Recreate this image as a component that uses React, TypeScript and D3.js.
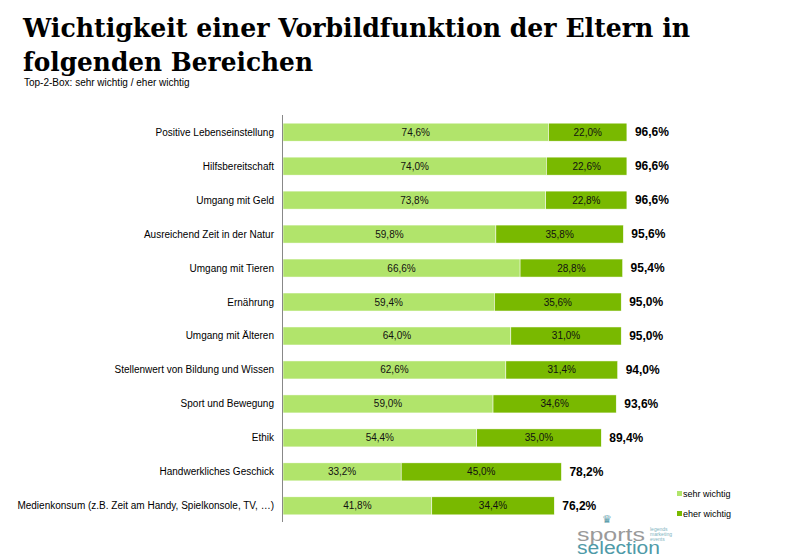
import React from "react";
import * as d3 from "d3";

const categories = [
  "Positive Lebenseinstellung",
  "Hilfsbereitschaft",
  "Umgang mit Geld",
  "Ausreichend Zeit in der Natur",
  "Umgang mit Tieren",
  "Ernährung",
  "Umgang mit Älteren",
  "Stellenwert von Bildung und Wissen",
  "Sport und Bewegung",
  "Ethik",
  "Handwerkliches Geschick",
  "Medienkonsum (z.B. Zeit am Handy, Spielkonsole, TV, …)",
];
const sehrWichtig = [74.6, 74.0, 73.8, 59.8, 66.6, 59.4, 64.0, 62.6, 59.0, 54.4, 33.2, 41.8];
const eherWichtig = [22.0, 22.6, 22.8, 35.8, 28.8, 35.6, 31.0, 31.4, 34.6, 35.0, 45.0, 34.4];
const seriesNames = ["sehr wichtig", "eher wichtig"];
const colors = ["#b1e46b", "#79b900"];

const fmt = (v: number) => v.toFixed(1).replace(".", ",") + "%";

export default function App() {
  const W = 786, H = 559;
  const x = d3.scaleLinear().domain([0, 100]).range([283, 639]);
  const y = d3.scaleBand().domain(categories).range([115, 523]).paddingInner(0.47).paddingOuter(0.24);
  const font = "Liberation Sans, Arial, sans-serif";
  const serif = "DejaVu Serif, Georgia, serif";
  return (
    <svg width={W} height={H} style={{ position: "absolute", left: 0, top: 0, background: "#fff" }}>
      <text x={23} y={37} fontFamily={serif} fontWeight="bold" fontSize={26} textLength={667} lengthAdjust="spacingAndGlyphs" fill="#000">
        Wichtigkeit einer Vorbildfunktion der Eltern in
      </text>
      <text x={23} y={71} fontFamily={serif} fontWeight="bold" fontSize={26} textLength={290} lengthAdjust="spacingAndGlyphs" fill="#000">
        folgenden Bereichen
      </text>
      <text x={24} y={86} fontFamily={font} fontSize={10} fill="#000">
        Top-2-Box: sehr wichtig / eher wichtig
      </text>
      {categories.map((c, i) => {
        const y0 = y(c)!;
        const bh = y.bandwidth();
        const a = sehrWichtig[i], b = eherWichtig[i];
        const total = a + b;
        return (
          <g key={c}>
            <text x={274} y={y0 + bh / 2} dy="0.35em" textAnchor="end" fontFamily={font} fontSize={10} fill="#000">
              {c}
            </text>
            <rect x={x(0)} y={y0} width={x(a) - x(0)} height={bh} fill={colors[0]} stroke="#fff" strokeWidth={0.5} />
            <rect x={x(a)} y={y0} width={x(a + b) - x(a)} height={bh} fill={colors[1]} stroke="#fff" strokeWidth={0.5} />
            <text x={(x(0) + x(a)) / 2} y={y0 + bh / 2} dy="0.35em" textAnchor="middle" fontFamily={font} fontSize={10} fill="#111">
              {fmt(a)}
            </text>
            <text x={(x(a) + x(a + b)) / 2} y={y0 + bh / 2} dy="0.35em" textAnchor="middle" fontFamily={font} fontSize={10} fill="#111">
              {fmt(b)}
            </text>
            <text x={x(a + b) + 8} y={y0 + bh / 2} dy="0.35em" fontFamily={font} fontWeight="bold" fontSize={12} fill="#000">
              {fmt(total)}
            </text>
          </g>
        );
      })}
      <line x1={282.5} x2={282.5} y1={115} y2={522} stroke="#888" strokeWidth={1} />
      {seriesNames.map((s, i) => (
        <g key={s}>
          <rect x={677} y={491 + i * 20} width={5} height={5} fill={colors[i]} />
          <text x={683} y={494 + i * 20} dy="0.35em" fontFamily={font} fontSize={9} fill="#000">
            {s}
          </text>
        </g>
      ))}
      <g fontFamily={font}>
        <text x={607} y={523} fontSize={11} fill="#5fa0ad" textAnchor="middle">♛</text>
        <text x={577} y={541} fontSize={18} fill="#9a9a9a" textLength={68} lengthAdjust="spacingAndGlyphs">sports</text>
        <text x={577} y={554} fontSize={18} fill="#4f9aa8" textLength={83} lengthAdjust="spacingAndGlyphs">selection</text>
        <text x={650} y={531} fontSize={5} fill="#7fb4c0">legends</text>
        <text x={650} y={536} fontSize={5} fill="#7fb4c0">marketing</text>
        <text x={650} y={541} fontSize={5} fill="#7fb4c0">events</text>
      </g>
    </svg>
  );
}
